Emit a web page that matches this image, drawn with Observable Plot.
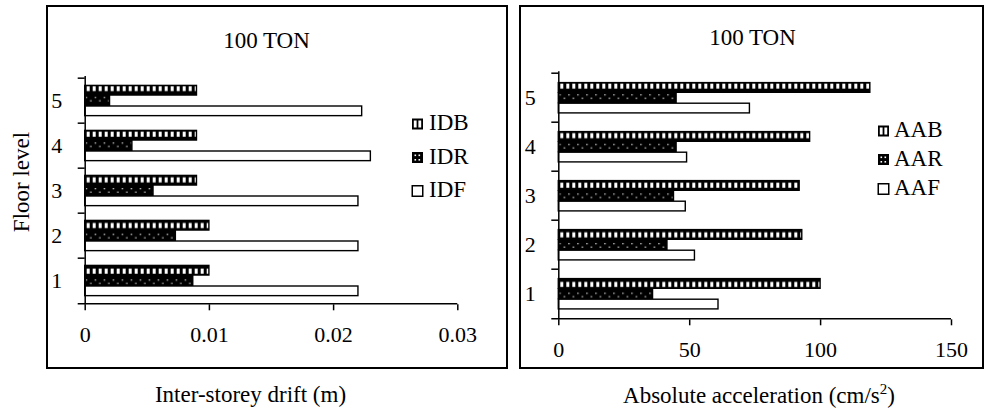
<!DOCTYPE html>
<html>
<head>
<meta charset="utf-8">
<script src="https://cdn.jsdelivr.net/npm/d3@7"></script>
<script src="https://cdn.jsdelivr.net/npm/@observablehq/plot@0.6"></script>
<style>
  body { margin: 0; background: #fff; }
  #wrap { position: relative; width: 989px; height: 410px; }
  #wrap svg { position: absolute; left: 0; top: 0; }
  #wrap svg text { font-family: "Liberation Serif", "Times New Roman", serif; }
</style>
</head>
<body>
<div id="wrap"></div>
<script>
// ---------- data ----------
const floors = [5, 4, 3, 2, 1];
const panelTitle = "100 TON";

const driftKeys = ["IDB", "IDR", "IDF"];
const IDB = [0.0090, 0.0090, 0.0090, 0.0100, 0.0100];
const IDR = [0.0020, 0.0038, 0.0055, 0.0073, 0.0087];
const IDF = [0.0223, 0.0230, 0.0220, 0.0220, 0.0220];
const driftTicks = [0, 0.01, 0.02, 0.03];
const driftLabel = "Inter-storey drift (m)";

const accKeys = ["AAB", "AAR", "AAF"];
const AAB = [119, 96, 92, 93, 100];
const AAR = [45, 45, 44, 41.5, 36];
const AAF = [73, 49, 48.5, 52, 61];
const accTicks = [0, 50, 100, 150];
const accLabel = ["Absolute acceleration (cm/s", "2", ")"];
const yLabel = "Floor level";

// ---------- drawing ----------
const W = 989, H = 410;
const FONT = "Liberation Serif, Times New Roman, serif";

function txt(sel, x, y, anchor, size) {
  return sel.append("text").attr("x", x).attr("y", y)
    .style("text-anchor", anchor).style("font-family", FONT)
    .style("font-size", size + "px").style("fill", "black");
}

function panel(cfg) {
  const {id, keys, series, ticks, x0, x1, yTop, yBot, barTop, barH, frame, title, label, legend} = cfg;
  const bw = (yBot - yTop) / floors.length;
  const xmax = ticks[ticks.length - 1];
  const ext = 7 * xmax / (x1 - x0);
  const rows = floors.flatMap((f, i) => keys.map((k, j) => ({floor: f, key: k, value: series[j][i]})));
  const fills = [`url(#${id}-b)`, `url(#${id}-r)`, "white"];
  const bars = keys.map((k, j) => Plot.barX(rows.filter(d => d.key === k), {
    x: "value", y: "floor", fill: fills[j], stroke: "black", strokeWidth: 1.4,
    insetTop: barTop + j * barH, insetBottom: bw - barTop - (j + 1) * barH
  }));
  const plot = Plot.plot({
    width: W, height: H,
    marginLeft: x0, marginRight: W - x1, marginTop: yTop, marginBottom: H - yBot,
    x: {domain: [0, xmax], label: null},
    y: {domain: floors, padding: 0, label: null},
    style: {fontFamily: FONT, fontSize: "22px", background: "transparent", color: "black", overflow: "visible"},
    marks: [
      ...bars,
      Plot.ruleX([0], {stroke: "black", strokeWidth: 1.5}),
      Plot.ruleY(floors, {y: d => d, dy: -bw / 2, x1: -ext, x2: 0, stroke: "black", strokeWidth: 1.5}),
      Plot.ruleY([floors[floors.length - 1]], {y: d => d, dy: bw / 2, x1: -ext, x2: xmax, stroke: "black", strokeWidth: 1.5}),
      Plot.axisX({ticks, tickFormat: d => String(d), tickSize: 6, tickPadding: 16, strokeWidth: 1.5, label: null, fontSize: 22}),
      Plot.axisY({tickSize: 0, tickPadding: 23, label: null, fontSize: 22})
    ]
  });
  const svg = d3.select(plot);
  const defs = svg.insert("defs", ":first-child");
  // vertical-stripe pattern
  const pb = defs.append("pattern").attr("id", id + "-b").attr("patternUnits", "userSpaceOnUse")
    .attr("x", x0).attr("y", yTop + barTop).attr("width", 6).attr("height", bw);
  pb.append("rect").attr("width", 6).attr("height", bw).attr("fill", "black");
  pb.append("rect").attr("x", 2).attr("y", 2.6).attr("width", 3).attr("height", barH - 5.2).attr("fill", "white");
  // dotted dark pattern
  const pr = defs.append("pattern").attr("id", id + "-r").attr("patternUnits", "userSpaceOnUse")
    .attr("x", x0).attr("y", yTop + barTop + barH).attr("width", 9).attr("height", bw);
  pr.append("rect").attr("width", 9).attr("height", bw).attr("fill", "black");
  pr.append("rect").attr("x", 1).attr("y", 3).attr("width", 1.3).attr("height", 1.3).attr("fill", "#ddd");
  pr.append("rect").attr("x", 5.5).attr("y", 6.5).attr("width", 1.3).attr("height", 1.3).attr("fill", "#ddd");

  // frame
  svg.append("rect").attr("x", frame[0]).attr("y", frame[1]).attr("width", frame[2]).attr("height", frame[3])
    .attr("fill", "none").attr("stroke", "black").attr("stroke-width", 2);
  // title
  txt(svg, title[0], title[1], "middle", 23).text(panelTitle);
  // x axis label
  const t = txt(svg, label.x, label.y, "middle", 23);
  if (Array.isArray(label.text)) {
    t.append("tspan").text(label.text[0]);
    t.append("tspan").style("font-size", "15px").attr("dy", -9).text(label.text[1]);
    t.append("tspan").attr("dy", 9).text(label.text[2]);
  } else t.text(label.text);
  // legend
  const lg = svg.append("g");
  keys.forEach((k, j) => {
    const sx = legend.x, sy = legend.ys[j] - 12;
    const g = lg.append("g").attr("transform", `translate(${sx},${sy})`);
    if (j === 0) {
      g.append("rect").attr("x", 0.5).attr("y", 0.5).attr("width", 11).attr("height", 11).attr("fill", "black");
      g.append("rect").attr("x", 2.3).attr("y", 2.5).attr("width", 2.8).attr("height", 7).attr("fill", "white");
      g.append("rect").attr("x", 6.9).attr("y", 2.5).attr("width", 2.8).attr("height", 7).attr("fill", "white");
    } else if (j === 1) {
      g.append("rect").attr("x", 0.5).attr("y", 0.5).attr("width", 11).attr("height", 11).attr("fill", "black");
      [[3, 3], [7, 3], [3, 7.5], [7, 7.5]].forEach(([a, b]) =>
        g.append("rect").attr("x", a).attr("y", b).attr("width", 1.6).attr("height", 1.6).attr("fill", "white"));
    } else {
      g.append("rect").attr("x", 0.75).attr("y", 0.75).attr("width", 10.5).attr("height", 10.5)
        .attr("fill", "white").attr("stroke", "black").attr("stroke-width", 1.5);
    }
    txt(lg, legend.tx, legend.ys[j], "start", 23).text(k);
  });
  return {plot, svg};
}

const left = panel({
  id: "L", keys: driftKeys, series: [IDB, IDR, IDF], ticks: driftTicks,
  x0: 84.7, x1: 457.3, yTop: 76, yBot: 304.3, barTop: 7.4, barH: 10.3,
  frame: [47, 6, 460, 362], title: [266.5, 48],
  label: {x: 250.5, y: 402, text: driftLabel},
  legend: {x: 411.5, tx: 429, ys: [130, 163.5, 197]}
});
txt(left.svg, 0, 0, "middle", 23).attr("x", null).attr("y", null)
  .attr("transform", "translate(29,182) rotate(-90)").text(yLabel);

const right = panel({
  id: "R", keys: accKeys, series: [AAB, AAR, AAF], ticks: accTicks,
  x0: 558.3, x1: 951, yTop: 71.3, yBot: 319.3, barTop: 9.6, barH: 10.3,
  frame: [520, 6, 463, 362], title: [752.5, 45],
  label: {x: 759, y: 403, text: accLabel},
  legend: {x: 877.5, tx: 894, ys: [137, 165.5, 195]}
});

document.getElementById("wrap").append(left.plot, right.plot);
</script>
</body>
</html>
